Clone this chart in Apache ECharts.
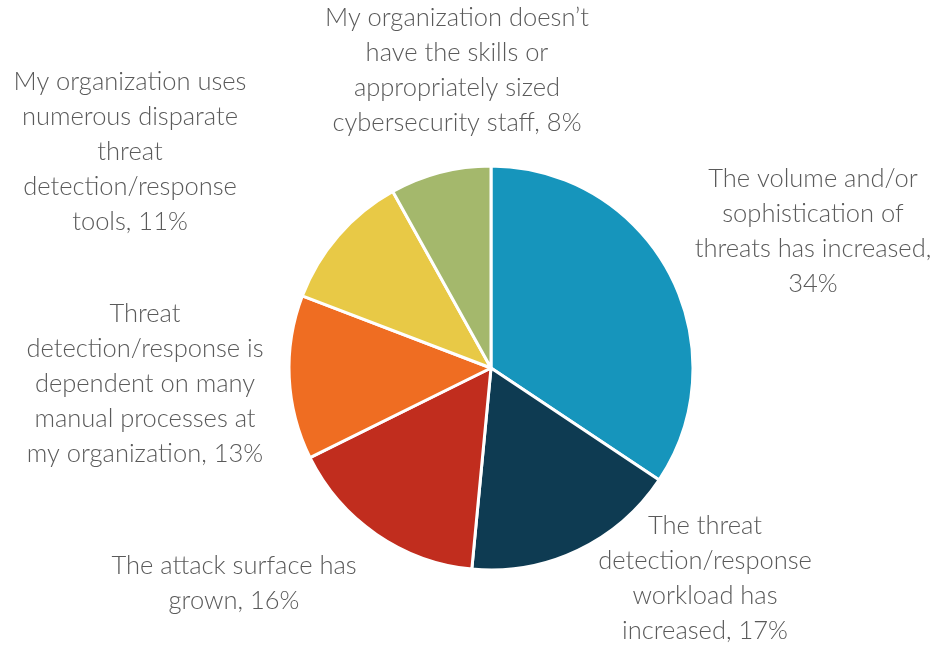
<!DOCTYPE html>
<html><head><meta charset="utf-8">
<script src="https://cdn.jsdelivr.net/npm/echarts@6/dist/echarts.min.js"></script>
<style>html,body{margin:0;padding:0;background:#fff}#c{width:942px;height:646px}</style>
</head><body><div id="c"></div>
<script>
const categories = [
  "The volume and/or\nsophistication of\nthreats has increased,\n34%",
  "The threat\ndetection/response\nworkload has\nincreased, 17%",
  "The attack surface has\ngrown, 16%",
  "Threat\ndetection/response is\ndependent on many\nmanual processes at\nmy organization, 13%",
  "My organization uses\nnumerous disparate\nthreat\ndetection/response\ntools, 11%",
  "My organization doesn\u2019t\nhave the skills or\nappropriately sized\ncybersecurity staff, 8%"
];
const values = [34, 17, 16, 13, 11, 8];
const colors = ["#1695BC", "#0E3B52", "#C12D1E", "#EF6D22", "#E8C946", "#A4B86C"];

const labelPos = [[813,231],[705,578],[234,583],[145,384],[130,152],[457,70]];

const chart = echarts.init(document.getElementById('c'), null, {renderer:'canvas'});
chart.setOption({
  backgroundColor: '#fff',
  animation: false,
  series: [{
    type: 'pie',
    center: [491, 368],
    radius: 202,
    startAngle: 90,
    clockwise: true,
    data: categories.map((n,i)=>({name:n, value:values[i], itemStyle:{color:colors[i]}})),
    itemStyle: {borderColor:'#fff', borderWidth:3},
    label: {
      show: true,
      position: 'outside',
      formatter: '{b}',
      color: '#5a5a5a',
      fontFamily: 'Lato, "Open Sans", sans-serif',
      fontWeight: 300,
      fontSize: 25.5,
      lineHeight: 35,
      align: 'center',
      overflow: 'none',
      width: 400
    },
    labelLine: {show:false},
    labelLayout: function(p){
      const pos = labelPos[p.dataIndex];
      return {x: pos[0], y: pos[1], align:'center', verticalAlign:'middle'};
    }
  }]
});
</script></body></html>
